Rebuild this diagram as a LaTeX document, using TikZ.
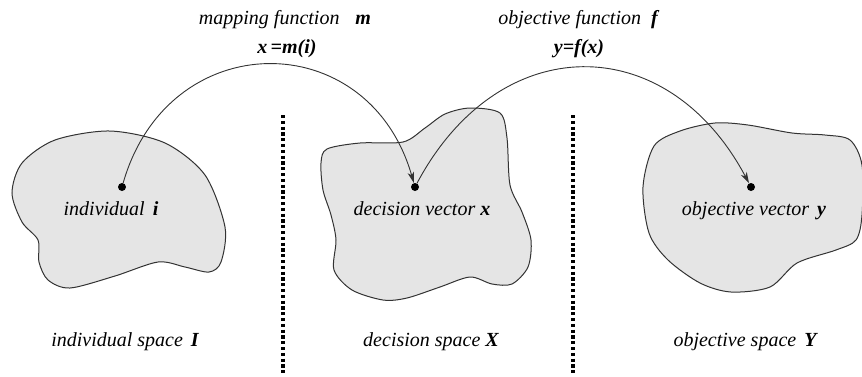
\documentclass[tikz,border=0pt]{standalone}
\usepackage{fontspec}
\setmainfont{Liberation Serif}
\usetikzlibrary{arrows.meta}

\tikzset{
  blob/.style={draw=black!80, fill=black!10, line width=1pt},
  dotnode/.style={circle, fill=black, inner sep=0pt, minimum size=8pt},
  sepline/.style={line width=3.2pt, dash pattern=on 3.2pt off 2.6pt},
  maparc/.style={draw=black!80, line width=0.9pt, -{Stealth[length=11pt,width=6.5pt,inset=3pt]}},
  lbl/.style={font=\fontsize{20}{24}\selectfont\itshape, inner sep=0pt},
}
\newcommand{\bvar}[1]{\textbf{\textit{#1}}}

\begin{document}
\begin{tikzpicture}[x=1pt,y=-1pt]
\useasboundingbox (0,0) rectangle (862,376);
% the three spaces
\draw[blob] plot[smooth cycle] coordinates {(12,193) (22,163) (55,140) (110,131) (165,143) (205,175) (225,227) (221,262) (209,272) (185,267) (158,262) (115,276) (70,288) (48,280) (39,262) (38,240) (22,222)};
\draw[blob] plot[smooth cycle] coordinates {(327,149) (360,143) (403,142) (425,128) (445,114) (470,108) (500,113) (507,138) (510,185) (522,212) (531,240) (528,267) (512,284) (492,284) (470,277) (440,287) (407,298) (383,300) (352,290) (334,270) (336,240) (331,215) (323,190) (321,163)};
\draw[blob] plot[smooth cycle] coordinates {(715,123) (680,131) (654,146) (643,187) (649,233) (668,260) (700,283) (731,292) (770,287) (797,263) (836,250) (856,240) (862,215) (862,165) (850,140) (825,135) (792,133) (748,125)};
% separators
\coordinate (sepAtop) at (283,115);
\coordinate (sepAbot) at (283,373);
\coordinate (sepBtop) at (573,115);
\coordinate (sepBbot) at (573,373);
\draw[sepline] (sepAtop) -- (sepAbot);
\draw[sepline] (sepBtop) -- (sepBbot);
% points
\node[dotnode] (ind) at (122,187) {};
\node[dotnode] (dec) at (415,187) {};
\node[dotnode] (obj) at (751,187) {};
\node[lbl] (indlbl) at (111,209) {individual\hspace{0.4em}\bvar{i}};
\node[lbl] (declbl) at (422,209) {decision vector \bvar{x}};
\node[lbl] (objlbl) at (754,211) {objective vector\hspace{0.4em}\bvar{y}};
% mappings
\draw[maparc] (ind) to[out=74,in=106,looseness=1.45] (dec);
\draw[maparc] (dec) to[out=62,in=118,looseness=1.35] (obj);
\node[lbl] (mlbl) at (285,20) {mapping function\hspace{0.8em}\bvar{m}};
\node[lbl] (mform) at (287,49) {\bvar{x\,=m(i)}};
\node[lbl] (flbl) at (578,20) {objective function\hspace{0.5em}\bvar{f}};
\node[lbl] (fform) at (579,49) {\bvar{y=f(x)}};
% space names
\node[lbl] (indspace) at (125,342) {individual space\hspace{0.4em}\bvar{I}};
\node[lbl] (decspace) at (431,342) {decision space \bvar{X}};
\node[lbl] (objspace) at (745,342) {objective space\hspace{0.4em}\bvar{Y}};
\end{tikzpicture}
\end{document}
